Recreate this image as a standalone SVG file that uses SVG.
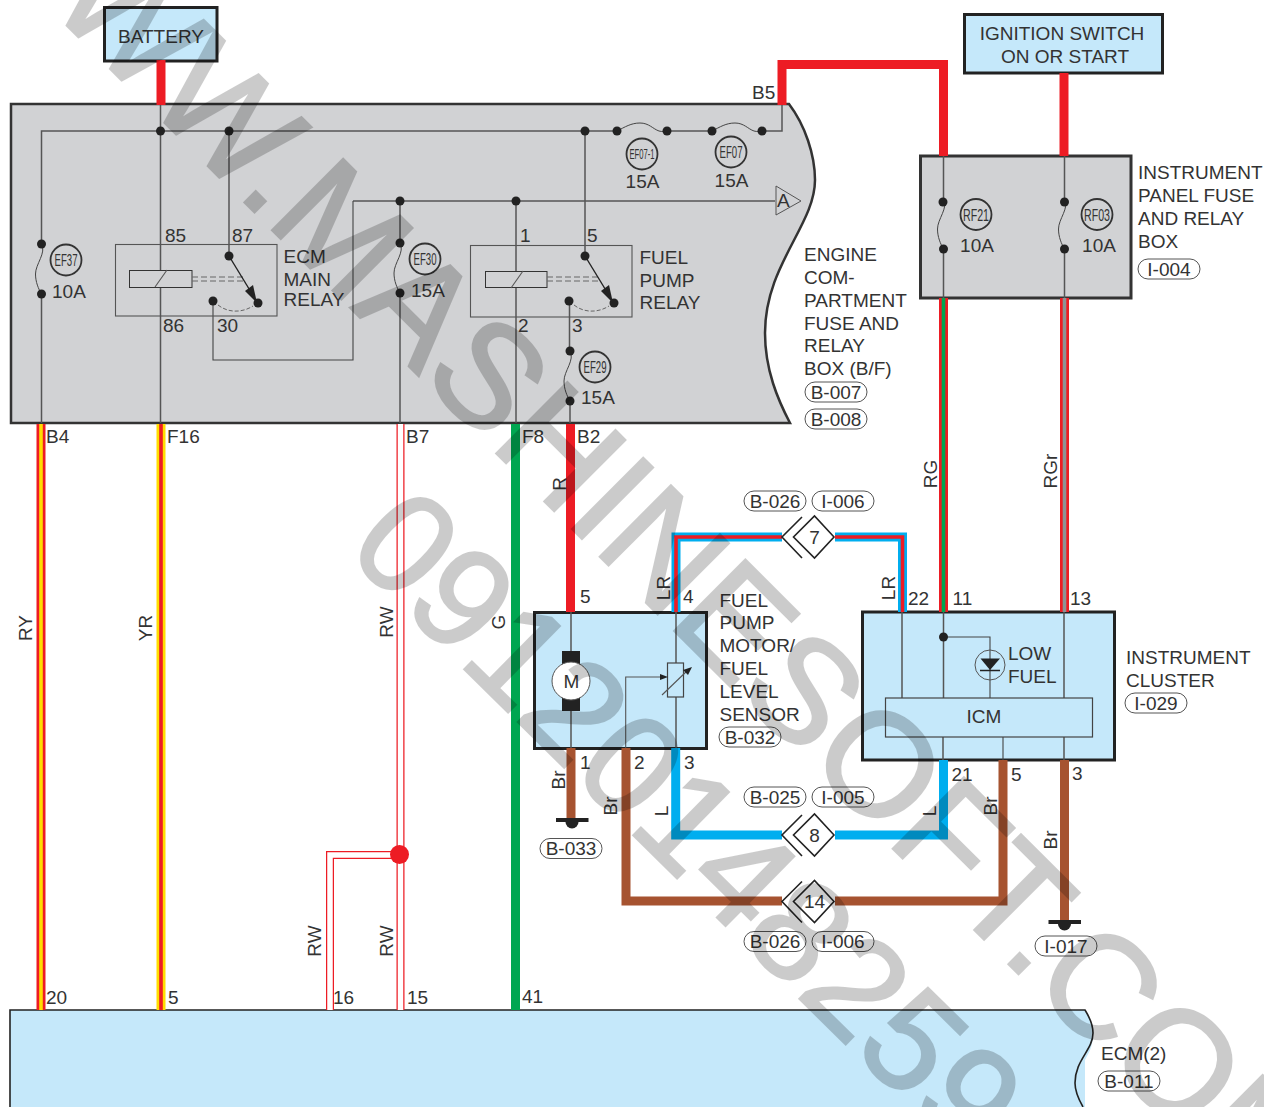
<svg xmlns="http://www.w3.org/2000/svg" width="1264" height="1107" viewBox="0 0 1264 1107">
<style>
text{font-family:"Liberation Sans",Arial,sans-serif;font-size:19px;fill:#333}
.m{text-anchor:middle}
.box{fill:#c5e8fa;stroke:#222;stroke-width:3}
.gbox{fill:#d1d2d4;stroke:#333;stroke-width:2.5}
.w{fill:none;stroke:#555;stroke-width:1.5}
.n{fill:none;stroke:#555;stroke-width:1.1}
.f{fill:none;stroke:#444;stroke-width:1}
.d{fill:#222;stroke:none}
.c{fill:none;stroke:#333;stroke-width:1.8}
.cl{font-size:17px;text-anchor:middle}
.tag{fill:#fff;stroke:#555;stroke-width:1}
.t{fill:none;stroke-width:9;stroke-linejoin:miter}
.r{stroke:#ed1c24}.b{stroke:#00aeef}.br{stroke:#a65330}.g{stroke:#00a651}.y{stroke:#ffdd00}
.cw{fill:none;stroke:#fff;stroke-width:5.5}
.core{fill:none;stroke-width:3.6}
.dia{fill:#fff;stroke:#222;stroke-width:1.6}
.chev{fill:none;stroke:#222;stroke-width:1.6}
.dash{fill:none;stroke:#666;stroke-width:1;stroke-dasharray:6 3}
.wm text{fill:#000;stroke:#000;stroke-width:2.5}
</style>
<defs>
<g id="tag"><rect class="tag" x="-31" y="-10" width="62" height="20" rx="10"/></g>
<path id="fv" class="f" d="M0,0C5,9 -6,20 -6,30C-6,38 -3,45 0,50"/>
<path id="fh" class="f" d="M0,0C8,-4 14,-8 23,-8C32,-8 36,-2 42,0C45,1 48,0 50,0"/>
<g id="dia"><path class="chev" d="M20,-20L0,0L20,21"/><path class="dia" d="M32,0L12.500,-21L-8.500,0L12.500,21Z" transform="translate(20,0)"/></g>
<g id="gnd"><rect class="d" x="-16" y="0" width="32.500" height="4"/><path class="d" d="M-6.500,4A6.500,6.500 0 0 0 6.500,4Z"/></g>
</defs>

<g id="battery"><rect class="box" x="104.500" y="7.500" width="112.500" height="53.500"/><text class="m" x="161" y="43">BATTERY</text></g>
<g id="ignition-switch"><rect class="box" x="964.500" y="14.500" width="198" height="58.500"/><text class="m" x="1062" y="40">IGNITION SWITCH</text><text class="m" x="1065" y="63">ON OR START</text></g>

<g id="engine-box">
<path class="gbox" d="M11,104H789C805,125 815,155 815,180C815,225 765,265 765,333C765,370 778,400 790,423H11Z"/>
<text x="804" y="261">ENGINE</text><text x="804" y="284">COM-</text><text x="804" y="307">PARTMENT</text><text x="804" y="330">FUSE AND</text><text x="804" y="352">RELAY</text><text x="804" y="375">BOX (B/F)</text>
<use href="#tag" x="836" y="392"/><text class="m" x="836" y="398.500">B-007</text>
<use href="#tag" x="836" y="419"/><text class="m" x="836" y="425.500">B-008</text>
<text x="752" y="99">B5</text>
</g>

<g id="ip-box">
<rect class="gbox" x="920.500" y="156" width="210.500" height="142" style="stroke-width:3"/>
<text x="1138" y="179">INSTRUMENT</text><text x="1138" y="202">PANEL FUSE</text><text x="1138" y="225">AND RELAY</text><text x="1138" y="248">BOX</text>
<use href="#tag" x="1169" y="269"/><text class="m" x="1169" y="275.500">I-004</text>
</g>

<g id="ecm">
<path d="M10,1010H1085C1090,1018 1093,1025 1093,1033C1093,1048 1088,1054 1085,1060V1107H10Z" fill="#c5e8fa"/>
<path d="M10,1107V1010H1085C1090,1018 1093,1025 1093,1033C1093,1050 1075,1060 1075,1083C1075,1092 1079,1100 1083,1107" fill="none" stroke="#222" stroke-width="1.6"/>
<text x="1101" y="1060">ECM(2)</text>
<use href="#tag" x="1129" y="1081"/><text class="m" x="1129" y="1087.500">B-011</text>
</g>

<g id="fuel-pump-motor">
<rect class="box" x="534.500" y="612.500" width="172" height="136"/>
<text x="719.500" y="606.500">FUEL</text><text x="719.500" y="629">PUMP</text><text x="719.500" y="652">MOTOR/</text><text x="719.500" y="675">FUEL</text><text x="719.500" y="698">LEVEL</text><text x="719.500" y="720.500">SENSOR</text>
<use href="#tag" x="750" y="737"/><text class="m" x="750" y="743.500">B-032</text>
<path class="w" d="M571,612V651M571,711V748M676,612V663M676,697V748"/>
<rect x="562" y="651" width="18" height="60" fill="#222"/>
<circle cx="571" cy="681" r="19" fill="#fff" stroke="#555"/>
<text class="m" x="571.500" y="688">M</text>
<rect x="667.500" y="663" width="16" height="34" fill="none" stroke="#444" stroke-width="1.200"/>
<path class="n" d="M625.700,748V677H662" stroke="#333"/>
<path class="d" d="M668,677L660,674V680Z"/>
<path class="n" d="M662,695L688,670"/>
<path class="d" d="M692,667L683,670L688,675Z"/>
</g>

<g id="instrument-cluster">
<rect class="box" x="862.500" y="612" width="252" height="148"/>
<text x="1126" y="664">INSTRUMENT</text><text x="1126" y="687">CLUSTER</text>
<use href="#tag" x="1156" y="703"/><text class="m" x="1156" y="709.500">I-029</text>
<path class="w" d="M902,612V698M943.500,612V698M1064,612V698M943,737V760M1064,737V760"/>
<path class="n" d="M943.500,637H990V698M1003,737V760" style="stroke:#444"/>
<circle class="d" cx="943.500" cy="637" r="4.500"/>
<circle cx="990" cy="665" r="15" fill="none" stroke="#555" stroke-width="1"/>
<path class="d" d="M980.500,658.500H1000L990,670Z"/><path d="M980,670.500H1000" stroke="#222" stroke-width="1.500"/>
<rect x="885.500" y="698" width="207" height="39" fill="#c5e8fa" stroke="#444" stroke-width="1.200"/>
<text class="m" x="984" y="723">ICM</text>
<text x="1008" y="660">LOW</text><text x="1008" y="683">FUEL</text>
</g>

<g id="connectors">
<path class="w" d="M41.500,244V131H617M667,131H712M762,131H782V105"/>
<path class="w" d="M160.500,104V423M229,131V256M585,131V256M353,201H775"/>
<path class="w" d="M41.500,294V423M400,201V243M400,293V423M516,201V423"/>
<path class="w" d="M569.500,301V351M570,401V423"/>
<path class="w" d="M943.500,156V202M943.500,249V298M1064.500,156V202M1064.500,249V298"/>
<path class="n" d="M213,301V360H353V201" style="stroke:#444"/>

<path class="t r" d="M161,60V105"/>
<path class="t r" d="M782,105V64.500H943.500V156"/>
<path class="t r" d="M1064,73V156"/>
<path class="t r" d="M41,424V1010"/><path class="core y" d="M41,424V1010"/>
<path class="t y" d="M161,424V1010"/><path class="core r" d="M161,424V1010"/>
<path class="t r" style="stroke-width:8" d="M400.500,424V1010M400,855H330V1010"/><path class="cw" d="M400.500,424V1010M400,855H330V1010"/>
<circle cx="399.500" cy="854.500" r="9.500" fill="#ed1c24"/>
<path class="t g" d="M515.500,424V1010"/>
<path class="t r" d="M570.500,424V612"/>
<path class="t r" d="M943.500,298V612"/><path class="core g" d="M943.500,298V612"/>
<path class="t r" d="M1064.500,298V612"/><path class="core" stroke="#8f9295" d="M1064.500,298V612"/>
<path class="t b" d="M676,612V537H782M835,537H902.500V612"/><path class="core r" d="M676,612V537H782M835,537H902.500V612"/>
<path class="t br" d="M571,748V819"/>
<path class="t br" d="M626,748V901H782M835,901H1003V760"/>
<path class="t b" d="M675.700,748V835H782M835,835H943.500V760"/>
<path class="t br" d="M1064.500,760V921"/>
</g>

<g id="ecm-main-relay">
<rect class="n" x="115.500" y="244.500" width="161.500" height="71.500"/>
<rect x="129.500" y="270.500" width="62.500" height="17" fill="#d1d2d4" stroke="#333" stroke-width="1"/>
<path class="n" d="M155,287L167,270"/>
<path class="dash" d="M192,277H245M192,281H245"/>
<circle class="d" cx="229" cy="256" r="4.500"/><circle class="d" cx="258" cy="303" r="4.500"/><circle class="d" cx="213" cy="301" r="4.500"/>
<path d="M229,256L254,297" stroke="#222" stroke-width="1.400"/><path class="d" d="M257,303L245,291L253,285Z"/>
<path class="dash" style="stroke-dasharray:4 2" d="M218,305C228,313 242,313 253,306"/>
<text x="165" y="242">85</text><text x="232" y="242">87</text><text x="163" y="332">86</text><text x="217" y="332">30</text>
<text x="283.500" y="263">ECM</text><text x="283.500" y="285.500">MAIN</text><text x="283.500" y="306">RELAY</text>
</g>

<g id="fuel-pump-relay">
<rect class="n" x="470.500" y="245.500" width="161.500" height="71.500"/>
<rect x="485.500" y="271.500" width="61.500" height="16" fill="#d1d2d4" stroke="#333" stroke-width="1"/>
<path class="n" d="M511,288L523,271"/>
<path class="dash" d="M547,277H600M547,281H600"/>
<circle class="d" cx="585" cy="256" r="4.500"/><circle class="d" cx="614" cy="303" r="4.500"/><circle class="d" cx="569" cy="301" r="4.500"/>
<path d="M585,256L610,297" stroke="#222" stroke-width="1.400"/><path class="d" d="M613,303L601,291L609,285Z"/>
<path class="dash" style="stroke-dasharray:4 2" d="M574,305C584,313 598,313 609,306"/>
<text x="520" y="242">1</text><text x="587" y="242">5</text><text x="518" y="332">2</text><text x="572" y="332">3</text>
<text x="639.500" y="264">FUEL</text><text x="639.500" y="287">PUMP</text><text x="639.500" y="309">RELAY</text>
</g>

<g id="fuses">
<use href="#fv" x="41.500" y="244"/><use href="#fv" x="400" y="243"/><use href="#fv" x="570" y="351"/><use href="#fv" x="943.500" y="202" transform="translate(0,-3)"/><use href="#fv" x="1064.500" y="202" transform="translate(0,-3)"/>
<use href="#fh" x="617" y="131"/><use href="#fh" x="712" y="131"/>
<g class="d"><circle cx="41.500" cy="244" r="4.500"/><circle cx="41.500" cy="294" r="4.500"/><circle cx="400" cy="243" r="4.500"/><circle cx="400" cy="293" r="4.500"/><circle cx="570" cy="351" r="4.500"/><circle cx="570" cy="401" r="4.500"/>
<circle cx="943" cy="202" r="4.500"/><circle cx="943.500" cy="249" r="4.500"/><circle cx="1064.500" cy="202" r="4.500"/><circle cx="1064.500" cy="249" r="4.500"/>
<circle cx="160.500" cy="131" r="4.500"/><circle cx="229" cy="131" r="4.500"/><circle cx="585" cy="131" r="4.500"/><circle cx="617" cy="131" r="4.500"/><circle cx="667" cy="131" r="4.500"/><circle cx="712" cy="131" r="4.500"/><circle cx="762" cy="131" r="4.500"/><circle cx="400" cy="201" r="4.500"/><circle cx="516" cy="201" r="4.500"/></g>
<circle class="c" cx="66" cy="260" r="15.500"/><text class="cl" x="66" y="266" textLength="23" lengthAdjust="spacingAndGlyphs">EF37</text><text x="52" y="298">10A</text>
<circle class="c" cx="425" cy="259" r="15.500"/><text class="cl" x="425" y="265" textLength="23" lengthAdjust="spacingAndGlyphs">EF30</text><text x="411" y="297">15A</text>
<circle class="c" cx="595" cy="367" r="15.500"/><text class="cl" x="595" y="373" textLength="23" lengthAdjust="spacingAndGlyphs">EF29</text><text x="581" y="404">15A</text>
<circle class="c" cx="642" cy="154" r="15.500"/><text class="cl" style="font-size:14px" x="642" y="159" textLength="25" lengthAdjust="spacingAndGlyphs">EF07-1</text><text class="m" x="642.500" y="188">15A</text>
<circle class="c" cx="731" cy="152" r="15.500"/><text class="cl" x="731" y="158" textLength="23" lengthAdjust="spacingAndGlyphs">EF07</text><text class="m" x="731.500" y="187">15A</text>
<circle class="c" cx="976" cy="214.500" r="15.500"/><text class="cl" x="976" y="220.500" textLength="26" lengthAdjust="spacingAndGlyphs">RF21</text><text class="m" x="977" y="252">10A</text>
<circle class="c" cx="1097" cy="214.500" r="15.500"/><text class="cl" x="1097" y="220.500" textLength="26" lengthAdjust="spacingAndGlyphs">RF03</text><text class="m" x="1099" y="252">10A</text>
</g>

<g id="connector-a"><path d="M776,186L801,201L776,215Z" fill="#d1d2d4" stroke="#555" stroke-width="1"/><text x="777" y="207">A</text></g>

<g id="joint-7"><use href="#dia" x="782" y="537"/><text class="m" x="814.500" y="543.500">7</text>
<use href="#tag" x="775" y="501"/><text class="m" x="775" y="507.500">B-026</text><use href="#tag" x="843" y="501"/><text class="m" x="843" y="507.500">I-006</text></g>
<g id="joint-8"><use href="#dia" x="782" y="835"/><text class="m" x="814.500" y="841.500">8</text>
<use href="#tag" x="775" y="797"/><text class="m" x="775" y="803.500">B-025</text><use href="#tag" x="843" y="797"/><text class="m" x="843" y="803.500">I-005</text></g>
<g id="joint-14"><use href="#dia" x="782" y="901.500"/><text class="m" x="814.500" y="908">14</text>
<use href="#tag" x="775" y="941.500"/><text class="m" x="775" y="948">B-026</text><use href="#tag" x="843" y="941.500"/><text class="m" x="843" y="948">I-006</text></g>

<g id="ground-b033"><use href="#gnd" x="572" y="818"/><use href="#tag" x="571" y="848.500"/><text class="m" x="571" y="855">B-033</text></g>
<g id="ground-i017"><use href="#gnd" x="1064.500" y="920"/><use href="#tag" x="1066" y="946"/><text class="m" x="1066" y="952.500">I-017</text></g>

<g id="labels">
<text x="46" y="443">B4</text><text x="167" y="443">F16</text><text x="406" y="443">B7</text><text x="522" y="443">F8</text><text x="577" y="443">B2</text>
<text x="580" y="603">5</text><text x="683" y="603">4</text><text x="908" y="604.500">22</text><text x="952.500" y="604.500">11</text><text x="1070" y="604.500">13</text>
<text x="580" y="768.500">1</text><text x="634" y="768.500">2</text><text x="684" y="768.500">3</text>
<text x="951.500" y="780.500">21</text><text x="1011" y="780.500">5</text><text x="1072" y="780">3</text>
<text x="46" y="1004">20</text><text x="168" y="1004">5</text><text x="333" y="1004">16</text><text x="407" y="1004">15</text><text x="522" y="1002.500">41</text>
<g class="m">
<text class="m" transform="translate(32,628) rotate(-90)">RY</text>
<text class="m" transform="translate(152,628) rotate(-90)">YR</text>
<text class="m" transform="translate(392.500,622) rotate(-90)">RW</text>
<text class="m" transform="translate(505,622) rotate(-90)">G</text>
<text class="m" transform="translate(566,484) rotate(-90)">R</text>
<text class="m" transform="translate(670,588) rotate(-90)">LR</text>
<text class="m" transform="translate(894.500,588) rotate(-90)">LR</text>
<text class="m" transform="translate(937,474) rotate(-90)">RG</text>
<text class="m" transform="translate(1057,471) rotate(-90)">RGr</text>
<text class="m" transform="translate(565,780) rotate(-90)">Br</text>
<text class="m" transform="translate(617,806) rotate(-90)">Br</text>
<text class="m" transform="translate(668,811) rotate(-90)">L</text>
<text class="m" transform="translate(936,811) rotate(-90)">L</text>
<text class="m" transform="translate(997,806) rotate(-90)">Br</text>
<text class="m" transform="translate(1057,840) rotate(-90)">Br</text>
<text class="m" transform="translate(321,941) rotate(-90)">RW</text>
<text class="m" transform="translate(392.500,941) rotate(-90)">RW</text>
</g>
</g>

<g class="wm" opacity=".2">
<text style="font-size:146px" transform="translate(-52,-93) rotate(44.900)">WWW.MASHINESOFT.COM</text>
<text style="font-size:142px" transform="translate(344,551) rotate(44.500)">09120148259</text>
</g>
</svg>
